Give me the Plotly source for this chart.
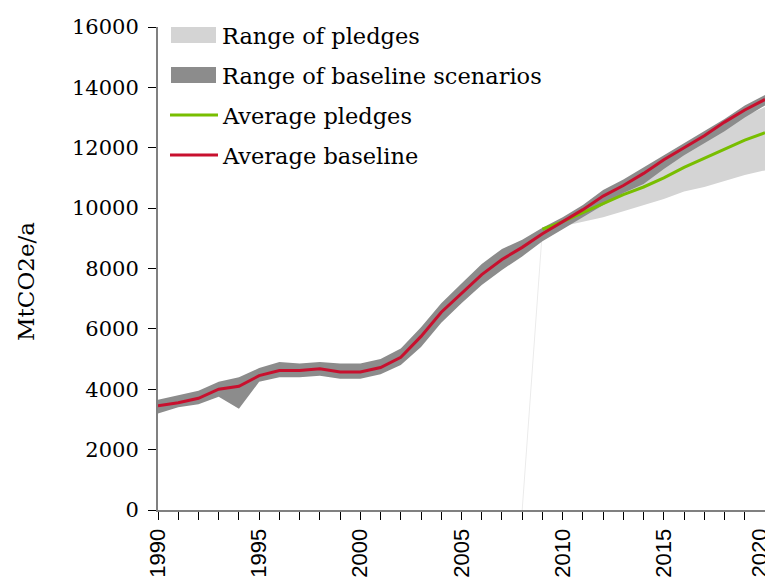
import plotly.graph_objects as go

years = list(range(1990, 2021))

avg_baseline = [3450, 3550, 3700, 4000, 4100, 4450, 4620, 4620, 4680, 4570, 4570,
                4720, 5060, 5750, 6550, 7180, 7800, 8300, 8700, 9150, 9550,
                9950, 10400, 10750, 11150, 11600, 12000, 12400, 12850, 13250, 13600]
baseline_high = [3650, 3800, 3950, 4250, 4400, 4700, 4900, 4850, 4900, 4850, 4850,
                 5000, 5350, 6050, 6850, 7500, 8150, 8650, 8950, 9350, 9700,
                 10100, 10600, 10950, 11350, 11750, 12150, 12550, 12950, 13400, 13750]
baseline_low = [3200, 3400, 3500, 3750, 3350, 4250, 4400, 4400, 4450, 4350, 4350,
                4500, 4800, 5400, 6200, 6850, 7450, 7950, 8400, 8900, 9300,
                9700, 10100, 10500, 10800, 11300, 11750, 12150, 12550, 13000, 13400]

pledge_years = list(range(2009, 2021))
pledge_high = [9300, 9550, 9900, 10300, 10650, 11000, 11400, 11850, 12250, 12650, 13050, 13350]
pledge_low = [9300, 9400, 9550, 9700, 9900, 10100, 10300, 10550, 10700, 10900, 11100, 11250]
avg_pledges = [9300, 9550, 9850, 10150, 10450, 10700, 11000, 11350, 11650, 11950, 12250, 12500]

# faint edge of the pledge area where it starts from zero in 2008
pledge_edge_years = [2008, 2009]
pledge_edge_values = [0, 9300]

x_ticks = [1990, 1995, 2000, 2005, 2010, 2015, 2020]
y_ticks = [0, 2000, 4000, 6000, 8000, 10000, 12000, 14000, 16000]

legend_names = ["Range of pledges", "Range of baseline scenarios",
                "Average pledges", "Average baseline"]
legend_kinds = ["area", "area", "line", "line"]

C_PLEDGE_RANGE = "#d4d4d4"
C_BASE_RANGE = "#8c8c8c"
C_PLEDGE = "#78be00"
C_BASE = "#c8102e"
legend_colors = [C_PLEDGE_RANGE, C_BASE_RANGE, C_PLEDGE, C_BASE]

serif = "DejaVu Serif"
sans = "Liberation Sans"

# the page body has an 8px default margin; size the figure to fit the window
OFF = 8
W, H = 773 - OFF, 584 - OFF
ML, MR, MT, MB = 158 - OFF, 8, 27 - OFF, 74
PW, PH = W - ML - MR, H - MT - MB


def px_to_paper_x(px):  # px in window coordinates
    return (px - OFF - ML) / PW


def px_to_paper_y(py):
    return (H - MB - (py - OFF)) / PH


fig = go.Figure()

fig.add_trace(go.Scatter(x=pledge_edge_years, y=pledge_edge_values, mode="lines",
                         line=dict(width=1, color="#ebebeb"), hoverinfo="skip"))
fig.add_trace(go.Scatter(x=pledge_years, y=pledge_low, mode="lines",
                         line=dict(width=0, color=C_PLEDGE_RANGE), hoverinfo="skip"))
fig.add_trace(go.Scatter(x=pledge_years, y=pledge_high, mode="lines", fill="tonexty",
                         fillcolor=C_PLEDGE_RANGE, line=dict(width=0, color=C_PLEDGE_RANGE),
                         name="Range of pledges"))
fig.add_trace(go.Scatter(x=years, y=baseline_low, mode="lines",
                         line=dict(width=0, color=C_BASE_RANGE), hoverinfo="skip"))
fig.add_trace(go.Scatter(x=years, y=baseline_high, mode="lines", fill="tonexty",
                         fillcolor=C_BASE_RANGE, line=dict(width=0, color=C_BASE_RANGE),
                         name="Range of baseline scenarios"))
fig.add_trace(go.Scatter(x=pledge_years, y=avg_pledges, mode="lines",
                         line=dict(width=3, color=C_PLEDGE), name="Average pledges"))
fig.add_trace(go.Scatter(x=years, y=avg_baseline, mode="lines",
                         line=dict(width=3, color=C_BASE), name="Average baseline"))

# Manual legend (swatches + text) in paper coordinates
shapes = []
annotations = []
row_y = [35, 75, 115, 155]
for name, kind, col, ry in zip(legend_names, legend_kinds, legend_colors, row_y):
    if kind == "area":
        shapes.append(dict(type="rect", xref="paper", yref="paper",
                           x0=px_to_paper_x(171), x1=px_to_paper_x(216),
                           y0=px_to_paper_y(ry + 8), y1=px_to_paper_y(ry - 8),
                           fillcolor=col, line=dict(width=0), layer="above"))
    else:
        shapes.append(dict(type="line", xref="paper", yref="paper",
                           x0=px_to_paper_x(170), x1=px_to_paper_x(218),
                           y0=px_to_paper_y(ry), y1=px_to_paper_y(ry),
                           line=dict(color=col, width=3), layer="above"))
    annotations.append(dict(text=name, xref="paper", yref="paper",
                            x=px_to_paper_x(220), y=px_to_paper_y(ry + 1),
                            xanchor="left", yanchor="middle", showarrow=False,
                            font=dict(family=serif, size=22.5, color="black")))

annotations.append(dict(text="MtCO2e/a", xref="paper", yref="paper",
                        x=px_to_paper_x(26), y=px_to_paper_y(282),
                        xanchor="center", yanchor="middle", textangle=-90,
                        showarrow=False,
                        font=dict(family=serif, size=23, color="black")))

# last x tick label, nudged left so it stays inside the window
tick_font = dict(family=sans, size=22, color="black")
annotations.append(dict(text=str(x_ticks[-1]), xref="x", yref="paper",
                        x=x_ticks[-1], y=px_to_paper_y(528),
                        xanchor="center", yanchor="top", xshift=-6, textangle=-90,
                        showarrow=False, font=tick_font, borderpad=0))

fig.update_layout(
    width=W, height=H,
    margin=dict(l=ML, r=MR, t=MT, b=MB),
    plot_bgcolor="white", paper_bgcolor="white",
    showlegend=False,
    shapes=shapes, annotations=annotations,
    xaxis=dict(range=[1990, 2020.0001], tickmode="array", tickvals=x_ticks,
               ticktext=[str(v) for v in x_ticks[:-1]] + [""],
               ticks="outside", ticklen=8, tickcolor="black", tickwidth=1,
               tickangle=-90, showgrid=False, zeroline=False, automargin=False,
               showline=True, linecolor="#808080", linewidth=2,
               tickfont=tick_font,
               minor=dict(dtick=1, tick0=1990, ticks="outside", ticklen=8,
                          tickcolor="black", tickwidth=1, showgrid=False)),
    yaxis=dict(range=[0, 16000.01], tickmode="array", tickvals=y_ticks,
               ticktext=[str(v) for v in y_ticks], ticklabelstandoff=5,
               ticks="outside", ticklen=8, tickcolor="black", tickwidth=1,
               showgrid=False, zeroline=False, automargin=False,
               showline=True, linecolor="#808080", linewidth=2,
               tickfont=dict(family=serif, size=21, color="black")),
)

fig.write_html("out.html")
